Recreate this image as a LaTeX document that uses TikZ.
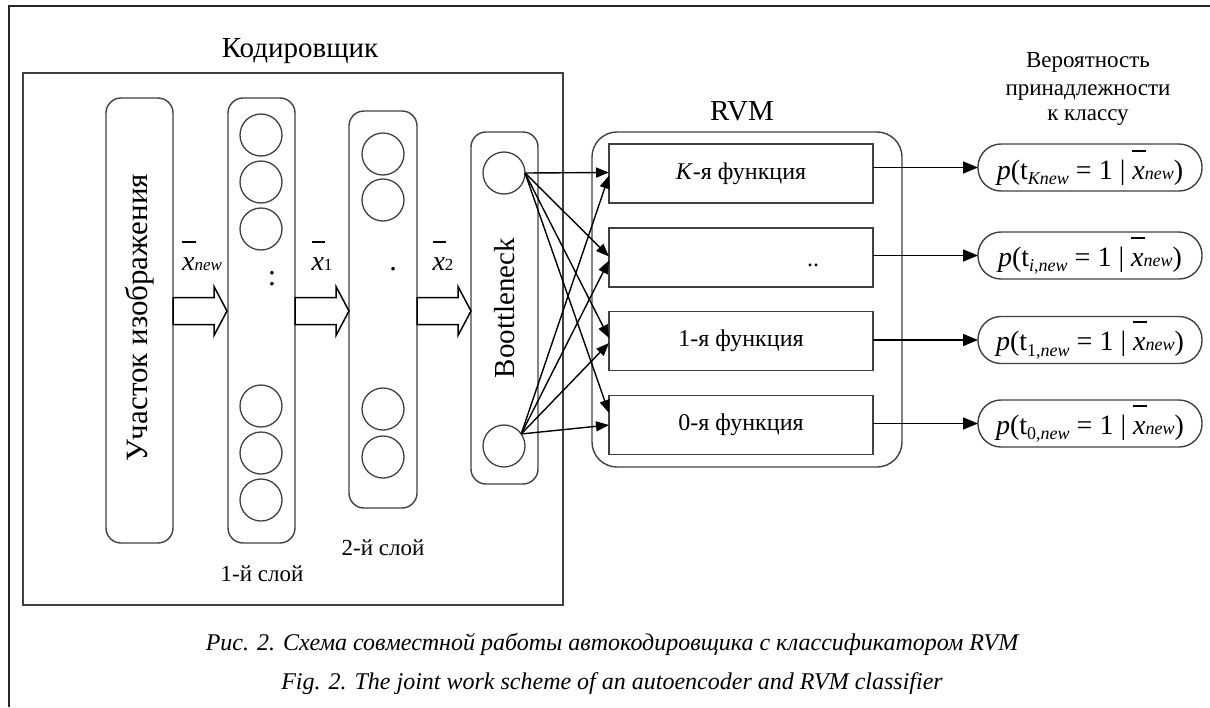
\documentclass[tikz,border=0pt]{standalone}
\usepackage{fontspec}
\setmainfont{Liberation Serif}
\usetikzlibrary{arrows.meta,calc}
\definecolor{frame}{HTML}{404040}
\newcommand\fs[1]{\fontsize{#1}{#1}\selectfont}
\newcommand\xb{\rlap{\raisebox{0.98em}{\rule{0.48em}{0.07em}}}\textit{x}}
\newcommand\sbx[1]{{\fs{18}\raisebox{-0.3em}{#1}}}
\newcommand\sbe[1]{{\fs{18}#1}}
\newcommand\sbl[1]{{\fs{17}#1}}
\begin{document}
\begin{tikzpicture}[x=1pt,y=-1pt,
  rbox/.style={draw=frame, line width=1.4pt, rounded corners=15pt, inner sep=0pt, outer sep=0pt},
  sbox/.style={draw=frame, line width=1.4pt, inner sep=0pt, outer sep=0pt},
  circ/.style={circle, draw=frame, line width=1.3pt, minimum size=42pt, inner sep=0pt, outer sep=0pt},
  fbox/.style={sbox, minimum width=264pt, minimum height=59pt, font=\fs{24}},
  obox/.style={draw=frame, line width=1.4pt, rounded corners=23pt, minimum width=224pt, minimum height=47pt, inner sep=0pt, outer sep=0pt, font=\fs{28}},
  conn/.style={line width=1.4pt, -{Triangle[length=13pt,width=10pt]}},
  oconn/.style={line width=1.5pt, -{Triangle[length=15pt,width=12pt]}},
  hollow/.style={draw=black, line width=1.5pt, fill=white},
  lbl/.style={inner sep=0pt, anchor=base}]
\useasboundingbox (0,0) rectangle (1210,707);
% outer frame
\draw[line width=1.3pt, black!85] (1210,6) -- (9,6) -- (9,707);
% encoder
\node[sbox, minimum width=540pt, minimum height=532pt] (enc) at (293,339) {};
\node[lbl, font=\fs{29}] (enct) at (300,57) {Кодировщик};
\node[rbox, minimum width=67pt, minimum height=445pt] (img) at (139.5,320.5) {};
\node[rotate=90, font=\fs{31}, inner sep=0pt] (imgt) at (139.5,318) {Участок изображения};
\node[rbox, minimum width=67pt, minimum height=445pt] (l1) at (261.5,320.5) {};
\node[rbox, minimum width=68pt, minimum height=397pt] (l2) at (383,309.5) {};
\node[rbox, minimum width=67pt, minimum height=352pt] (bn) at (504.5,308) {};
\foreach \i/\y in {1/135,2/182,3/229,4/406,5/453,6/500}
  \node[circ] (c1\i) at (261,\y) {};
\foreach \i/\y in {1/154,2/200,3/409,4/457}
  \node[circ] (c2\i) at (383,\y) {};
\node[circ] (bt) at (504,173) {};
\node[circ] (bb) at (504,446) {};
\node[font=\fs{30}, inner sep=0pt] (d1) at (272,278.5) {:};
\node[font=\fs{30}, inner sep=0pt] (d2) at (393,269) {.};
\node[rotate=90, font=\fs{29}, inner sep=0pt] (bnt) at (505,308) {Boottleneck};
\node[lbl, font=\fs{23}] (s1) at (262,581) {1-й слой};
\node[lbl, font=\fs{23}] (s2) at (383,555) {2-й слой};
% hollow arrows
\draw[hollow] (img.east |- 0,311) ++(0,-13.5) -- ++(41,0) -- ++(0,-11) -- ++(13,24.5) -- ++(-13,24.5) -- ++(0,-11) -- ++(-41,0) -- cycle;
\draw[hollow] (l1.east |- 0,311) ++(0,-13.5) -- ++(41,0) -- ++(0,-11) -- ++(13,24.5) -- ++(-13,24.5) -- ++(0,-11) -- ++(-41,0) -- cycle;
\draw[hollow] (l2.east |- 0,311) ++(0,-13.5) -- ++(41,0) -- ++(0,-11) -- ++(13,24.5) -- ++(-13,24.5) -- ++(0,-11) -- ++(-41,0) -- cycle;
\node[lbl, font=\fs{28}] (x0) at (202,270) {\xb\sbl{\textit{new}}};
\node[lbl, font=\fs{28}] (x1) at (322,270) {\xb\sbl{1}};
\node[lbl, font=\fs{28}] (x2) at (443,270) {\xb\sbl{2}};
% RVM
\node[rbox, rounded corners=25pt, minimum width=310pt, minimum height=335pt] (rvm) at (747,299.5) {};
\node[lbl, font=\fs{29}] (rvmt) at (742,120) {RVM};
\node[fbox] (f1) at (741,173.5) {\textit{K}-я функция};
\node[fbox] (f2) at (741,257.5) {};
\node[font=\fs{24}, inner sep=0pt, anchor=base] (f2t) at (813,266) {..};
\node[fbox] (f3) at (741,341) {1-я функция};
\node[fbox] (f4) at (741,425) {0-я функция};
\foreach \f/\s in {f1/1,f2/1,f3/3,f4/12}
  \draw[conn] (bt.east) -- ([yshift=\s pt]\f.west);
\foreach \f/\s in {f1/-2,f2/-3,f3/-2,f4/0}
  \draw[conn] (bb.35) -- ([yshift=\s pt]\f.west);
% outputs
\node[lbl, font=\fs{23}] (pt1) at (1088,67) {Вероятность};
\node[lbl, font=\fs{23}] (pt2) at (1088,95) {принадлежности};
\node[lbl, font=\fs{23}] (pt3) at (1088,120) {к классу};
\node[obox] (o1) at (1090,167.5) {\textit{p}(t\sbx{\textit{Knew}} = 1 | \xb\sbe{\textit{new}})};
\node[obox] (o2) at (1090,255.5) {\textit{p}(t\sbx{\textit{i},\textit{new}} = 1 | \xb\sbe{\textit{new}})};
\node[obox] (o3) at (1090,340) {\textit{p}(t\sbx{1,\textit{new}} = 1 | \xb\sbe{\textit{new}})};
\node[obox] (o4) at (1090,423.5) {\textit{p}(t\sbx{0,\textit{new}} = 1 | \xb\sbe{\textit{new}})};
\draw[oconn] (f1.east |- o1.west) -- (o1.west);
\draw[oconn] (f2.east |- o2.west) -- (o2.west);
\draw[oconn] (f3.east |- o3.west) -- (o3.west);
\draw[oconn] (f4.east |- o4.west) -- (o4.west);
% captions
\node[lbl, font=\fs{24}\itshape] (cap1) at (612,650) {Рис. 2. Схема совместной работы автокодировщика с классификатором RVM};
\node[lbl, font=\fs{24}\itshape] (cap2) at (612,689) {Fig. 2. The joint work scheme of an autoencoder and RVM classifier};
\end{tikzpicture}
\end{document}
